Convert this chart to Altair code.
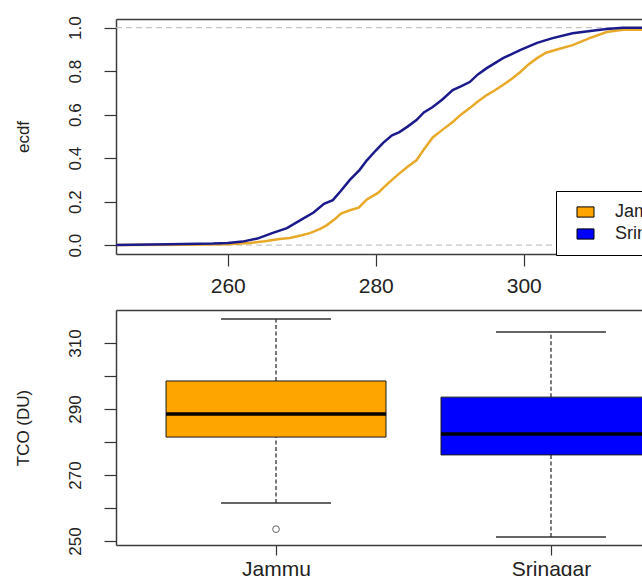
import altair as alt
import pandas as pd

# ---------------- data ----------------
cities = ["Jammu", "Srinagar"]
legend_fill = ["#FFA500", "#0000FF"]
line_colors = ["#e8a928", "#1a1a8c"]

jammu_tco = [244.9, 255.0, 260.0, 263.0, 265.0, 267.0, 268.4, 270.0, 271.1, 272.5,
             273.4, 274.5, 275.3, 276.5, 277.7, 278.8, 280.3, 281.7, 283.2, 284.3,
             285.5, 286.5, 287.7, 289.0, 290.4, 291.5, 292.7, 293.8, 295.0, 296.0,
             297.2, 298.4, 299.5, 300.6, 301.8, 303.0, 304.5, 306.6, 308.9, 311.2,
             313.4, 316.1]
jammu_ecdf = [0.000, 0.002, 0.004, 0.010, 0.018, 0.028, 0.033, 0.045, 0.055, 0.075,
              0.092, 0.120, 0.145, 0.160, 0.172, 0.210, 0.240, 0.285, 0.330, 0.360,
              0.390, 0.440, 0.495, 0.530, 0.566, 0.600, 0.630, 0.660, 0.690, 0.710,
              0.736, 0.765, 0.795, 0.830, 0.860, 0.885, 0.900, 0.920, 0.952, 0.980,
              0.990, 0.990]

srinagar_tco = [244.9, 252.0, 258.0, 260.0, 262.0, 264.0, 266.0, 268.0, 270.0, 271.6,
                273.0, 274.2, 275.3, 276.5, 277.8, 278.8, 280.0, 281.0, 282.2, 283.2,
                284.3, 285.5, 286.5, 287.7, 289.0, 290.4, 291.5, 292.7, 293.8, 295.0,
                296.0, 297.2, 299.5, 301.8, 303.9, 306.6, 309.0, 311.2, 313.4, 316.1]
srinagar_ecdf = [0.000, 0.004, 0.007, 0.010, 0.016, 0.030, 0.055, 0.078, 0.118, 0.150,
                 0.190, 0.207, 0.250, 0.300, 0.345, 0.390, 0.435, 0.470, 0.505, 0.520,
                 0.545, 0.575, 0.610, 0.635, 0.670, 0.713, 0.730, 0.750, 0.785, 0.814,
                 0.835, 0.860, 0.897, 0.930, 0.952, 0.974, 0.985, 0.994, 1.000, 1.000]

ecdf_refs = [0.0, 1.0]
ecdf_x_ticks = [260, 280, 300]
ecdf_y_ticks = [0.0, 0.2, 0.4, 0.6, 0.8, 1.0]

box_pos = [1, 2]
box_lo = [261.5, 251.2]
box_q1 = [281.5, 276.1]
box_med = [288.5, 282.4]
box_q3 = [298.5, 293.6]
box_hi = [317.3, 313.3]

out_city = ["Jammu"]
out_pos = [1]
out_val = [253.6]

box_y_ticks = [250, 260, 270, 280, 290, 300, 310]

# ---------------- tables ----------------
ecdf_df = pd.concat([
    pd.DataFrame({"city": "Jammu", "tco": jammu_tco, "F": jammu_ecdf}),
    pd.DataFrame({"city": "Srinagar", "tco": srinagar_tco, "F": srinagar_ecdf}),
], ignore_index=True)
ref_df = pd.DataFrame({"F": ecdf_refs})
box_df = pd.DataFrame({"city": cities, "pos": box_pos, "lo": box_lo, "q1": box_q1,
                       "med": box_med, "q3": box_q3, "hi": box_hi})
out_df = pd.DataFrame({"city": out_city, "pos": out_pos, "val": out_val})

FONT = "Liberation Sans"
TXT = "#222222"
AX = "#333333"
FRAME = "#3c3c3c"
W, H = 526, 235
GAP = 56

frame_axis = alt.Axis(orient="top", labels=False, ticks=False, domain=True, grid=False,
                      title=None, domainColor=FRAME, domainWidth=1.5)

# ---------------- top panel: ECDF ----------------
xs = alt.Scale(domain=[244.9, 315.98], nice=False, zero=False)
ys = alt.Scale(domain=[-0.041, 1.040], nice=False, zero=False)

x_axis_top = alt.Axis(values=ecdf_x_ticks, format="d", title=None, grid=False,
                      domain=True, domainColor=FRAME, domainWidth=1.5,
                      tickSize=12, tickColor=AX, tickWidth=1.2, labelPadding=9,
                      labelFont=FONT, labelFontSize=21, labelColor=TXT)
y_axis_top = alt.Axis(values=ecdf_y_ticks, format=".1f", title="ecdf", grid=False,
                      domain=True, domainColor=FRAME, domainWidth=1.5,
                      tickSize=12, tickColor=AX, tickWidth=1.2,
                      labelAngle=-90, labelAlign="center", labelBaseline="middle",
                      labelPadding=29, labelFont=FONT, labelFontSize=17, labelColor=TXT,
                      titleX=-93, titleY=H / 2, titleAngle=-90, titleAlign="center",
                      titleBaseline="middle", titleFont=FONT, titleFontSize=17,
                      titleFontWeight="normal", titleColor=TXT)

refs = alt.Chart(ref_df).mark_rule(color="#b8b8b8", strokeDash=[6, 4], strokeWidth=1).encode(
    y=alt.Y("F:Q", scale=ys, axis=y_axis_top)
)

lines = alt.Chart(ecdf_df).mark_line(strokeWidth=2.5, clip=True).encode(
    x=alt.X("tco:Q", scale=xs, axis=x_axis_top),
    y=alt.Y("F:Q", scale=ys, axis=y_axis_top),
    stroke=alt.Stroke("city:N", scale=alt.Scale(domain=cities, range=line_colors), legend=None),
    order="tco:Q",
)

top_frame = alt.Chart(ecdf_df).transform_filter("false").mark_point().encode(
    x=alt.X("tco:Q", scale=xs, axis=frame_axis),
    y=alt.Y("F:Q", scale=ys, axis=y_axis_top),
)

top = alt.layer(refs, lines, top_frame).resolve_axis(x="independent").properties(
    width=W, height=H)

# ---------------- bottom panel: boxplot ----------------
bx = alt.Scale(domain=[0.418, 2.331], nice=False, zero=False)
by = alt.Scale(domain=[248.8, 320.0], nice=False, zero=False)

label_expr = " : ".join(
    [f"datum.value == {p} ? '{c}'" for p, c in zip(box_pos, cities)]) + " : ''"
x_axis_box = alt.Axis(values=box_pos, labelExpr=label_expr, title=None, grid=False,
                      domain=True, domainColor=FRAME, domainWidth=1.5,
                      tickSize=10, tickColor=AX, tickWidth=1.2, labelPadding=3,
                      labelFont=FONT, labelFontSize=21, labelColor=TXT)
y_axis_box = alt.Axis(values=box_y_ticks, labelExpr="datum.value % 20 == 10 ? datum.label : ''",
                      title="TCO (DU)", grid=False,
                      domain=True, domainColor=FRAME, domainWidth=1.5,
                      tickSize=12, tickColor=AX, tickWidth=1.2,
                      labelAngle=-90, labelAlign="center", labelBaseline="middle",
                      labelPadding=29, labelFont=FONT, labelFontSize=17, labelColor=TXT,
                      titleX=-93, titleY=H / 2, titleAngle=-90, titleAlign="center",
                      titleBaseline="middle", titleFont=FONT, titleFontSize=17,
                      titleFontWeight="normal", titleColor=TXT)

fill_scale = alt.Scale(domain=cities, range=legend_fill)

base = alt.Chart(box_df).transform_calculate(
    left="datum.pos - 0.4", right="datum.pos + 0.4",
    cl="datum.pos - 0.2", cr="datum.pos + 0.2",
)

whisk_lo = base.mark_rule(strokeDash=[4, 2.5], color="#222", strokeWidth=1.2, clip=True).encode(
    x=alt.X("pos:Q", scale=bx, axis=x_axis_box),
    y=alt.Y("lo:Q", scale=by, axis=y_axis_box), y2="q1:Q")
whisk_hi = base.mark_rule(strokeDash=[4, 2.5], color="#222", strokeWidth=1.2, clip=True).encode(
    x=alt.X("pos:Q", scale=bx, axis=None),
    y=alt.Y("q3:Q", scale=by, axis=y_axis_box), y2="hi:Q")
cap_lo = base.mark_rule(color="#333", strokeWidth=1.5, clip=True).encode(
    x=alt.X("cl:Q", scale=bx, axis=None), x2="cr:Q",
    y=alt.Y("lo:Q", scale=by, axis=y_axis_box))
cap_hi = base.mark_rule(color="#333", strokeWidth=1.5, clip=True).encode(
    x=alt.X("cl:Q", scale=bx, axis=None), x2="cr:Q",
    y=alt.Y("hi:Q", scale=by, axis=y_axis_box))
boxes = base.mark_rect(stroke="#1a1a1a", strokeWidth=1, clip=True).encode(
    x=alt.X("left:Q", scale=bx, axis=None), x2="right:Q",
    y=alt.Y("q1:Q", scale=by, axis=y_axis_box), y2="q3:Q",
    fill=alt.Fill("city:N", scale=fill_scale, legend=alt.Legend(
        title=None, orient="none", legendX=440, legendY=172 - (H + GAP),
        direction="vertical", fillColor="white", strokeColor="black",
        padding=12, cornerRadius=0,
        symbolType="M-1,-0.6H1V0.6H-1Z", symbolSize=289, symbolStrokeColor="black",
        symbolStrokeWidth=1, symbolOpacity=1, symbolOffset=8.5, labelOffset=20.5,
        labelFont=FONT, labelFontSize=18, labelColor=TXT, rowPadding=4, labelLimit=400,
    )))
medians = base.mark_rule(color="black", strokeWidth=3.5, clip=True).encode(
    x=alt.X("left:Q", scale=bx, axis=None), x2="right:Q",
    y=alt.Y("med:Q", scale=by, axis=y_axis_box))
outliers = alt.Chart(out_df).mark_point(shape="circle", size=45, color="#222",
                                        strokeWidth=1, clip=True).encode(
    x=alt.X("pos:Q", scale=bx, axis=None),
    y=alt.Y("val:Q", scale=by, axis=y_axis_box))
box_frame = alt.Chart(out_df).transform_filter("false").mark_point().encode(
    x=alt.X("pos:Q", scale=bx, axis=frame_axis),
    y=alt.Y("val:Q", scale=by, axis=y_axis_box))

bottom = alt.layer(whisk_lo, whisk_hi, cap_lo, cap_hi, boxes, medians, outliers,
                   box_frame).resolve_axis(x="independent").properties(width=W, height=H)

chart = alt.vconcat(top, bottom, spacing=GAP, bounds="flush").resolve_scale(
    fill="independent", stroke="independent"
).properties(
    autosize=alt.AutoSizeParams(type="none"),
    padding={"left": 116, "top": 19, "right": 0, "bottom": 557},
    background="white",
).configure_view(
    stroke=None
).configure_legend(
    strokeWidth=1
)

chart.save("out.html", embed_options={"renderer": "svg", "actions": False})
